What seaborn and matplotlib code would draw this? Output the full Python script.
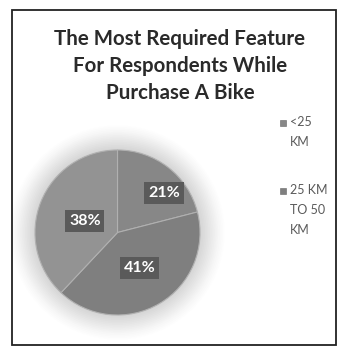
import numpy as np
import matplotlib
matplotlib.use("Agg")
import matplotlib.pyplot as plt
import seaborn as sns
from matplotlib.patches import Rectangle, Circle

# ---- data ----
categories = ["<25 KM", "25 KM TO 50 KM", "ABOVE 50 KM"]
legend_labels = ["<25\nKM", "25 KM\nTO 50\nKM"]
values = [21, 41, 38]
title = "The Most Required Feature\nFor Respondents While\nPurchase A Bike"

sns.set_theme(style="white")
plt.rcParams['font.family'] = ['Lato', 'DejaVu Sans']

colors = ["#878787", "#7f7f7f", "#939393"]

W, H = 344, 355
fig = plt.figure(figsize=(W/100, H/100), dpi=100)
fig.patch.set_facecolor("white")

# frame
fig.patches.append(Rectangle((12/W, 1-345/H), (336-12)/W, (345-10)/H,
                             transform=fig.transFigure, fill=False,
                             edgecolor="#222222", linewidth=1.3))

fig.text(180/W, 1-66/H, title, ha="center", va="center",
         fontsize=14.8, fontweight="bold", color="#2a2a2a", linespacing=1.43)

cx, cy, R = 117.5, 232.5, 82.5
k = 1.3
ax = fig.add_axes([(cx-R*k)/W, (H-cy-R*k)/H, 2*R*k/W, 2*R*k/H])
# soft glow around pie
for r, a in zip(np.linspace(1.3, 1.0, 16), np.linspace(0.012, 0.05, 16)):
    ax.add_patch(Circle((0, 0), r, color="#9a9a9a", alpha=a, lw=0, zorder=0))

wedges, texts, autotexts = ax.pie(values, colors=colors, startangle=90,
                                  counterclock=False, autopct="%d%%",
                                  wedgeprops=dict(edgecolor="#b0b0b0", linewidth=0.8),
                                  textprops=dict(color="white", fontsize=11.5,
                                                 fontweight="bold"))
radii = [0.74, 0.51, 0.42]
ang_off = [-12, 1.2, 2.1]
for w, t, rr, off in zip(wedges, autotexts, radii, ang_off):
    mid = np.deg2rad((w.theta1 + w.theta2) / 2 + off)
    t.set_position((rr * np.cos(mid), rr * np.sin(mid)))
    t.set_bbox(dict(facecolor="#5a5a5a", edgecolor="none", pad=2.8))
ax.set_xlim(-k, k)
ax.set_ylim(-k, k)
ax.set_aspect("equal")
ax.axis("off")

# legend (marker aligned with first text line)
leg_y = [123, 191]
for lab, col, y in zip(legend_labels, colors, leg_y):
    fig.patches.append(Rectangle((280/W, 1-(y+3)/H), 6/W, 6/H,
                                 transform=fig.transFigure, facecolor=col,
                                 edgecolor="#666666", linewidth=0.4))
    fig.text(290/W, 1-(y-7)/H, lab, ha="left", va="top", fontsize=9,
             color="#5a5a5a", linespacing=1.78)

fig.savefig("out.png", dpi=100)
